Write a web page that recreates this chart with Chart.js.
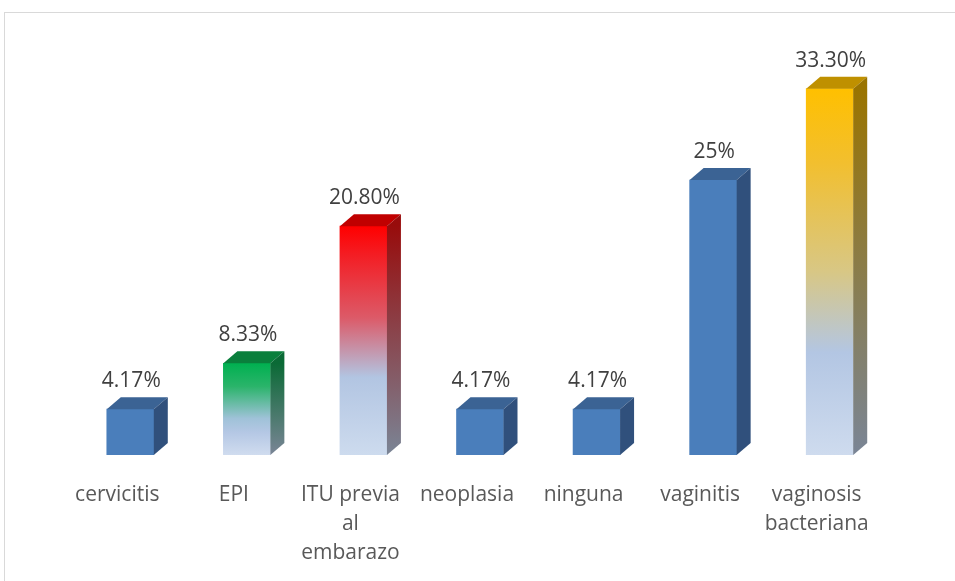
<!DOCTYPE html>
<html>
<head>
<meta charset="utf-8">
<script src="https://cdn.jsdelivr.net/npm/chart.js@4.4.0/dist/chart.umd.min.js"></script>
<style>
    body { margin: 0; background: #fff; }
    .frame { position: absolute; left: 4px; top: 12px; width: 980px; height: 600px; border: 1px solid #d9d9d9; box-sizing: border-box; }
    .chart-box { position: absolute; left: 0; top: 0; width: 955px; height: 581px; }
</style>
</head>
<body>
<div class="frame"></div>
<div class="chart-box"><canvas id="chart"></canvas></div>

<script>
    const categories = ['cervicitis', 'EPI', ['ITU previa', 'al', 'embarazo'], 'neoplasia', 'ninguna', 'vaginitis', ['vaginosis', 'bacteriana']]
    const values = [4.17, 8.33, 20.8, 4.17, 4.17, 25, 33.3]
    const valueLabels = ['4.17%', '8.33%', '20.80%', '4.17%', '4.17%', '25%', '33.30%']

    // colour scheme per bar: front gradient stops, top face, side gradient (top -> bottom)
    const blue = { front: [[0, '#4a7ebb'], [1, '#4a7ebb']], top: '#3b6394', side: ['#30507c', '#30507c'] }
    const styles = [
        blue,
        { front: [[0, '#00b050'], [0.25, '#2ab46a'], [0.6, '#9fc2d8'], [0.75, '#b4c7e4'], [1, '#d0dcef']], top: '#0a7f3c', side: ['#0b6a36', '#7a8596'] },
        { front: [[0, '#ff0000'], [0.12, '#f41c22'], [0.4, '#dc5a68'], [0.66, '#b2c5e2'], [1, '#cddbee']], top: '#c00000', side: ['#980c0c', '#7a8596'] },
        blue,
        blue,
        blue,
        { front: [[0, '#ffc000'], [0.2, '#f2bf2e'], [0.5, '#d8c785'], [0.72, '#b3c6e3'], [1, '#cedbee']], top: '#bf9000', side: ['#9a7400', '#7a8596'] }
    ]

    const fontFamily = '"Open Sans", Lato, sans-serif'
    const depthX = 14
    const depthY = 12

    function frontColor(context) {
        const chart = context.chart
        const s = styles[context.dataIndex]
        if (!chart.chartArea) return s.front[0][1]
        const y = chart.scales.y
        const top = y.getPixelForValue(values[context.dataIndex])
        const base = y.getPixelForValue(0)
        const g = chart.ctx.createLinearGradient(0, top, 0, base)
        s.front.forEach(st => g.addColorStop(st[0], st[1]))
        return g
    }

    const box3d = {
        id: 'box3d',
        afterDatasetsDraw(chart) {
            const ctx = chart.ctx
            const meta = chart.getDatasetMeta(0)
            meta.data.forEach((bar, i) => {
                const s = styles[i]
                const l = bar.x - bar.width / 2
                const r = bar.x + bar.width / 2
                const t = bar.y
                const b = bar.base
                ctx.save()
                // top face
                ctx.fillStyle = s.top
                ctx.beginPath()
                ctx.moveTo(l, t)
                ctx.lineTo(l + depthX, t - depthY)
                ctx.lineTo(r + depthX, t - depthY)
                ctx.lineTo(r, t)
                ctx.closePath()
                ctx.fill()
                // side face
                const g = ctx.createLinearGradient(0, t, 0, b)
                g.addColorStop(0, s.side[0])
                g.addColorStop(1, s.side[1])
                ctx.fillStyle = g
                ctx.beginPath()
                ctx.moveTo(r, t)
                ctx.lineTo(r + depthX, t - depthY)
                ctx.lineTo(r + depthX, b - depthY)
                ctx.lineTo(r, b)
                ctx.closePath()
                ctx.fill()
                // value label
                ctx.fillStyle = '#404040'
                ctx.font = '21px ' + fontFamily
                ctx.textAlign = 'center'
                ctx.textBaseline = 'middle'
                ctx.fillText(valueLabels[i], bar.x + 1, t - 28)
                ctx.restore()
            })
        }
    }

    new Chart(document.getElementById('chart'), {
        type: 'bar',
        data: {
            labels: categories,
            datasets: [{
                data: values,
                backgroundColor: frontColor,
                borderWidth: 0,
                barThickness: 47
            }]
        },
        options: {
            responsive: true,
            maintainAspectRatio: false,
            animation: false,
            layout: { padding: { left: 72, right: 67, top: 59, bottom: 0 } },
            plugins: { legend: { display: false }, tooltip: { enabled: false } },
            scales: {
                x: {
                    grid: { display: false },
                    border: { display: false },
                    afterFit(scale) { scale.height = 126 },
                    ticks: {
                        color: '#595959',
                        font: { family: fontFamily, size: 21, lineHeight: 1.4 },
                        padding: 17,
                        labelOffset: -13,
                        maxRotation: 0,
                        autoSkip: false
                    }
                },
                y: {
                    display: false,
                    min: 0,
                    max: 36
                }
            }
        },
        plugins: [box3d]
    })
</script>
</body>
</html>
